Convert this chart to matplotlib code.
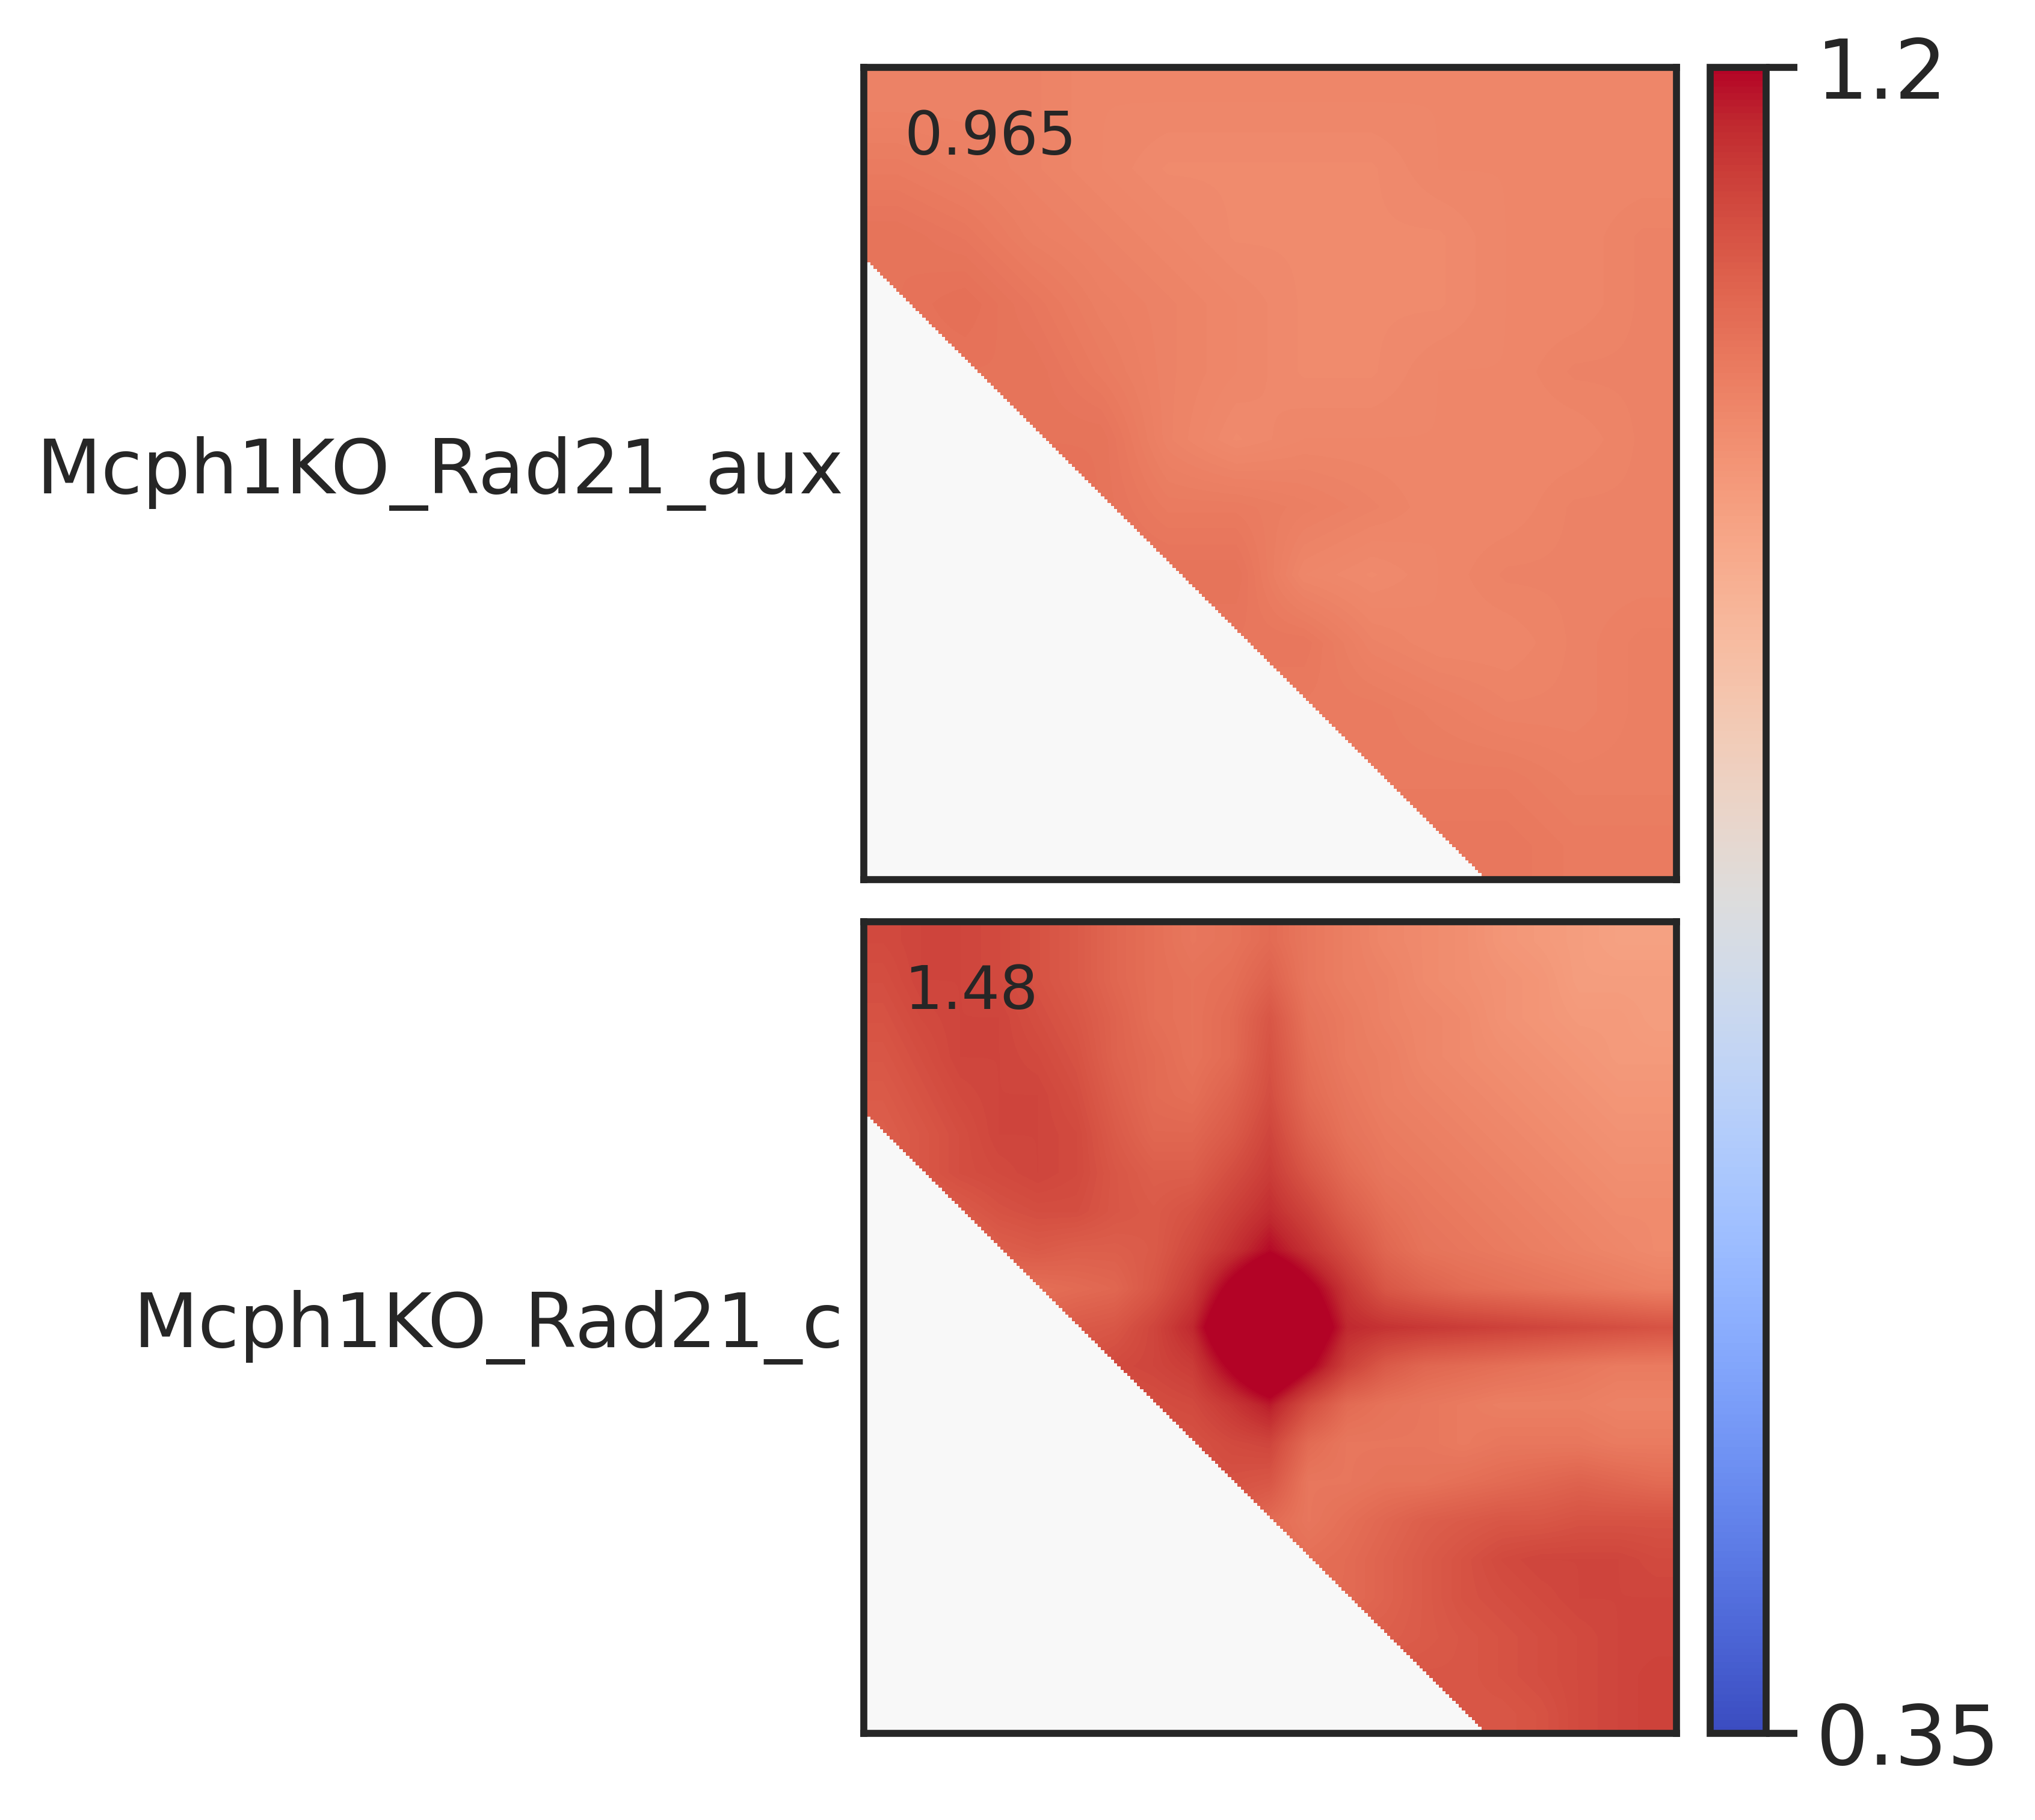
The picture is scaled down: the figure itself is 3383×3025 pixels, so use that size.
import numpy as np
import matplotlib
matplotlib.use("Agg")
import matplotlib.pyplot as plt
from matplotlib.colors import ListedColormap, LogNorm

labels = ["Mcph1KO_Rad21_aux", "Mcph1KO_Rad21_c"]
scores = ["0.965", "1.48"]
vmin = 0.35
vmax = 1.2
cbar_ticks = [0.35, 1.2]
cbar_ticklabels = ["0.35", "1.2"]

# matrix size and the first row that holds data in column 0 (rows further down are empty)
n_bins = 250
diag_offset = 59

# enrichment on a coarse grid, top row first
aux_values = [
    [.94, .94, .94, .93, .93, .93, .93, .93, .93, .93, .93, .93],
    [.96, .95, .94, .93, .92, .92, .92, .92, .93, .93, .93, .93],
    [.98, .97, .95, .94, .93, .92, .92, .92, .92, .93, .93, .94],
    [.98, .99, .97, .95, .94, .93, .92, .92, .92, .93, .93, .94],
    [.98, .98, .98, .96, .94, .93, .92, .92, .93, .93, .94, .94],
    [.98, .98, .98, .98, .94, .92, .93, .93, .93, .93, .93, .94],
    [.99, .99, .99, .98, .96, .96, .95, .94, .93, .93, .94, .94],
    [.98, .98, .98, .98, .98, .98, .93, .92, .93, .94, .94, .94],
    [.97, .97, .97, .97, .97, .97, .97, .94, .93, .93, .94, .95],
    [.96, .96, .96, .96, .96, .96, .96, .96, .95, .94, .94, .95],
    [.96, .96, .96, .96, .96, .96, .96, .96, .96, .96, .95, .95],
    [.97, .97, .97, .97, .97, .97, .97, .97, .97, .97, .96, .96],
]
ctrl_values = [
    [1.08, 1.09, 1.09, 1.08, 1.06, 1.04, 1.01, .99, .97, .98, 1.00, .97, .95, .93, .92, .91, .89, .88, .87, .86, .86],
    [1.07, 1.09, 1.09, 1.08, 1.06, 1.04, 1.01, .99, .98, .99, 1.02, .97, .95, .94, .92, .91, .90, .89, .87, .87, .87],
    [1.06, 1.08, 1.09, 1.09, 1.07, 1.05, 1.02, .99, .98, 1.00, 1.05, .98, .96, .94, .93, .92, .90, .89, .88, .88, .87],
    [1.05, 1.07, 1.09, 1.09, 1.08, 1.06, 1.02, 1.00, .98, 1.00, 1.06, .99, .96, .95, .93, .92, .91, .90, .89, .88, .88],
    [1.04, 1.06, 1.08, 1.09, 1.09, 1.07, 1.03, 1.00, .99, 1.02, 1.07, 1.00, .97, .95, .94, .93, .92, .91, .90, .89, .89],
    [1.03, 1.05, 1.07, 1.09, 1.09, 1.08, 1.04, 1.01, 1.01, 1.04, 1.09, 1.02, .98, .96, .95, .94, .93, .92, .91, .90, .90],
    [1.03, 1.05, 1.07, 1.08, 1.09, 1.08, 1.05, 1.03, 1.03, 1.07, 1.11, 1.05, 1.00, .97, .96, .95, .94, .93, .92, .91, .91],
    [1.03, 1.03, 1.04, 1.06, 1.07, 1.07, 1.05, 1.04, 1.06, 1.10, 1.14, 1.09, 1.03, .99, .97, .96, .95, .94, .93, .92, .92],
    [1.00, 1.00, 1.00, 1.03, 1.04, 1.03, 1.03, 1.04, 1.08, 1.13, 1.19, 1.13, 1.07, 1.01, .98, .97, .96, .95, .94, .93, .92],
    [1.00, 1.00, 1.00, 1.00, .99, 1.00, 1.01, 1.05, 1.11, 1.22, 1.32, 1.22, 1.12, 1.05, 1.02, 1.00, .99, .98, .97, .96, .95],
    [1.02, 1.02, 1.02, 1.02, 1.02, 1.04, 1.05, 1.09, 1.15, 1.30, 1.50, 1.28, 1.15, 1.13, 1.12, 1.11, 1.10, 1.09, 1.08, 1.07, 1.06],
    [1.06, 1.06, 1.06, 1.06, 1.06, 1.06, 1.08, 1.09, 1.11, 1.21, 1.32, 1.21, 1.10, 1.04, 1.01, 1.00, .99, .98, .97, .96, .96],
    [1.06, 1.06, 1.06, 1.06, 1.06, 1.06, 1.06, 1.07, 1.08, 1.12, 1.17, 1.07, 1.00, .98, .97, .96, .95, .95, .95, .94, .94],
    [1.06, 1.06, 1.06, 1.06, 1.06, 1.06, 1.06, 1.06, 1.06, 1.08, 1.09, 1.00, .97, .97, .97, .96, .97, .97, .97, .96, .96],
    [1.06, 1.06, 1.06, 1.06, 1.06, 1.06, 1.06, 1.06, 1.06, 1.06, 1.05, .97, .97, .98, .98, .99, 1.00, 1.01, 1.02, 1.01, 1.00],
    [1.04, 1.04, 1.04, 1.04, 1.04, 1.04, 1.04, 1.04, 1.04, 1.04, 1.00, .97, .99, 1.01, 1.03, 1.04, 1.05, 1.05, 1.06, 1.06, 1.06],
    [1.00, 1.00, 1.00, 1.00, 1.00, 1.00, 1.00, 1.00, 1.00, 1.00, 1.00, .99, 1.00, 1.02, 1.04, 1.06, 1.08, 1.09, 1.09, 1.09, 1.08],
    [1.00, 1.00, 1.00, 1.00, 1.00, 1.00, 1.00, 1.00, 1.00, 1.00, 1.00, 1.00, 1.00, 1.02, 1.04, 1.06, 1.07, 1.08, 1.09, 1.09, 1.09],
    [1.03, 1.03, 1.03, 1.03, 1.03, 1.03, 1.03, 1.03, 1.03, 1.03, 1.03, 1.03, 1.03, 1.03, 1.04, 1.05, 1.06, 1.07, 1.08, 1.09, 1.09],
    [1.05, 1.05, 1.05, 1.05, 1.05, 1.05, 1.05, 1.05, 1.05, 1.05, 1.05, 1.05, 1.05, 1.05, 1.05, 1.05, 1.06, 1.07, 1.08, 1.09, 1.10],
    [1.05, 1.05, 1.05, 1.05, 1.05, 1.05, 1.05, 1.05, 1.05, 1.05, 1.05, 1.05, 1.05, 1.05, 1.05, 1.05, 1.05, 1.06, 1.08, 1.09, 1.10],
]
panels = [aux_values, ctrl_values]

W, H = 3383, 3025
DARK = "#262626"
LW = 1.4
plt.rcParams["font.family"] = "DejaVu Sans"
plt.rcParams["text.color"] = DARK
plt.rcParams["axes.edgecolor"] = DARK
plt.rcParams["axes.labelcolor"] = DARK
plt.rcParams["axes.linewidth"] = LW


def px_axes(fig, x0, y0, x1, y1):
    # pixel box, y counted from the top of the picture
    return fig.add_axes([x0 / W, 1 - y1 / H, (x1 - x0) / W, (y1 - y0) / H])


fig = plt.figure(figsize=(W / 600, H / 600), dpi=600)
norm = LogNorm(vmin=vmin, vmax=vmax)

# the empty triangle below the shifted diagonal
empty = np.ma.masked_equal(np.tri(n_bins, n_bins, -diag_offset), 0)
empty_cmap = ListedColormap(["#f8f8f8"])

boxes = [(1436, 112, 2787, 1462), (1436, 1532, 2787, 2881)]
for values, label, score, box in zip(panels, labels, scores, boxes):
    ax = px_axes(fig, *box)
    im = ax.imshow(np.array(values), cmap="coolwarm", norm=norm, aspect="auto",
                   interpolation="bilinear", extent=(0, 1, 1, 0))
    ax.imshow(empty, cmap=empty_cmap, aspect="auto", interpolation="nearest",
              extent=(0, 1, 1, 0))
    ax.set_xticks([])
    ax.set_yticks([])
    ax.set_ylabel(label, rotation=0, ha="right", va="center", fontsize=15, labelpad=4)
    ax.text(0.05, 0.913, score, transform=ax.transAxes, fontsize=12,
            ha="left", va="center", color=DARK)

cax = px_axes(fig, 2843, 112, 2936, 2881)
cbar = fig.colorbar(im, cax=cax)
cbar.minorticks_off()
cbar.set_ticks(cbar_ticks)
cbar.set_ticklabels(cbar_ticklabels)
cbar.ax.tick_params(labelsize=16.5, length=6.2, width=LW, color=DARK, labelcolor=DARK, pad=3.8)
cbar.outline.set_edgecolor(DARK)
cbar.outline.set_linewidth(LW)

fig.savefig("out.png", dpi=600, facecolor="white")
